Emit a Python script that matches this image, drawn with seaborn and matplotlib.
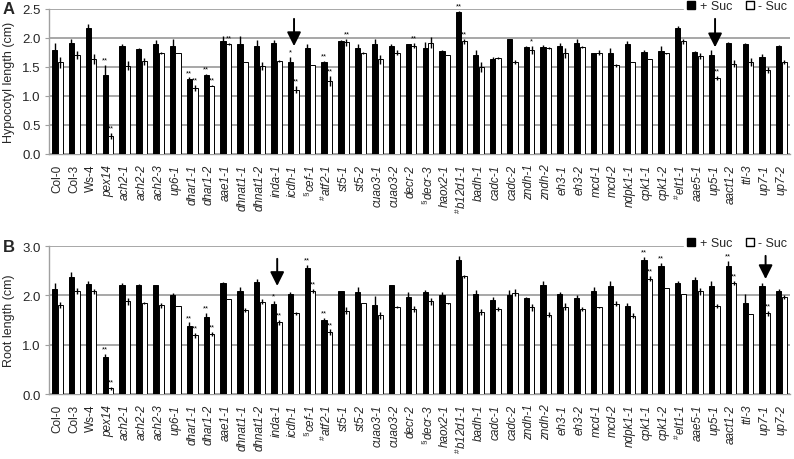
import matplotlib
matplotlib.use("Agg")
import matplotlib.pyplot as plt
import seaborn as sns
import pandas as pd
import numpy as np
from matplotlib.lines import Line2D

categories = ["Col-0", "Col-3", "Ws-4", "pex14", "ach2-1", "ach2-2", "ach2-3", "up6-1",
              "dhar1-1", "dhar1-2", "aae1-1", "dhnat1-1", "dhnat1-2", "inda-1", "icdh-1",
              "cef-1", "atf2-1", "st5-1", "st5-2", "cuao3-1", "cuao3-2", "decr-2", "decr-3",
              "haox2-1", "b12d1-1", "badh-1", "cadc-1", "cadc-2", "zndh-1", "zndh-2", "eh3-1",
              "eh3-2", "mcd-1", "mcd-2", "ndpk1-1", "cpk1-1", "cpk1-2", "elt1-1", "aae5-1",
              "up5-1", "aact1-2", "ttl-3", "up7-1", "up7-2"]
tick_labels = ["Col-0", "Col-3", "Ws-4", "pex14", "ach2-1", "ach2-2", "ach2-3", "up6-1",
               "dhar1-1", "dhar1-2", "aae1-1", "dhnat1-1", "dhnat1-2", "inda-1", "icdh-1",
               "§cef-1", "#atf2-1", "st5-1", "st5-2", "cuao3-1", "cuao3-2", "decr-2", "§decr-3",
               "haox2-1", "#b12d1-1", "badh-1", "cadc-1", "cadc-2", "zndh-1", "zndh-2", "eh3-1",
               "eh3-2", "mcd-1", "mcd-2", "ndpk1-1", "cpk1-1", "cpk1-2", "#elt1-1", "aae5-1",
               "up5-1", "aact1-2", "ttl-3", "up7-1", "up7-2"]
upright_labels = ["Col-0", "Col-3", "Ws-4"]
conditions = ["+ Suc", "- Suc"]

hyp_plus = [1.80, 1.92, 2.18, 1.37, 1.87, 1.81, 1.90, 1.86, 1.30, 1.36, 1.95, 1.90, 1.87, 1.91, 1.59,
            1.83, 1.59, 1.95, 1.82, 1.89, 1.87, 1.89, 1.83, 1.78, 2.44, 1.70, 1.64, 1.98, 1.84, 1.84,
            1.86, 1.92, 1.74, 1.75, 1.89, 1.76, 1.78, 2.17, 1.76, 1.71, 1.92, 1.90, 1.67, 1.87]
hyp_plus_err = [0.12, 0.07, 0.06, 0.17, 0.02, 0.01, 0.06, 0.13, 0.02, 0.02, 0.09, 0.13, 0.09, 0.06, 0.09,
                0.06, 0.01, 0.01, 0.07, 0.10, 0.02, 0.01, 0.10, 0.02, 0.02, 0.09, 0.03, 0.01, 0.03, 0.04,
                0.06, 0.06, 0.01, 0.07, 0.06, 0.03, 0.08, 0.03, 0.01, 0.08, 0.01, 0.01, 0.06, 0.01]
hyp_minus = [1.58, 1.71, 1.64, 0.31, 1.52, 1.60, 1.74, 1.75, 1.14, 1.18, 1.90, 1.59, 1.51, 1.60, 1.11,
             1.53, 1.26, 1.93, 1.74, 1.63, 1.75, 1.87, 1.92, 1.71, 1.94, 1.50, 1.66, 1.59, 1.79, 1.83,
             1.74, 1.85, 1.75, 1.53, 1.59, 1.64, 1.74, 1.94, 1.69, 1.31, 1.56, 1.59, 1.45, 1.59]
hyp_minus_err = [0.09, 0.07, 0.08, 0.05, 0.08, 0.06, 0.02, 0.00, 0.05, 0.01, 0.02, 0.00, 0.07, 0.02, 0.06,
                 0.00, 0.08, 0.06, 0.02, 0.07, 0.04, 0.05, 0.10, 0.00, 0.04, 0.09, 0.02, 0.03, 0.07, 0.02,
                 0.09, 0.02, 0.04, 0.03, 0.00, 0.00, 0.01, 0.05, 0.05, 0.03, 0.06, 0.07, 0.05, 0.03]

root_plus = [2.12, 2.37, 2.22, 0.76, 2.21, 2.20, 2.20, 2.00, 1.38, 1.56, 2.25, 2.09, 2.28, 1.82, 2.03,
             2.55, 1.50, 2.09, 2.07, 1.80, 2.20, 1.97, 2.06, 2.01, 2.72, 2.03, 1.91, 2.01, 1.94, 2.20,
             2.02, 1.95, 2.09, 2.19, 1.78, 2.72, 2.59, 2.24, 2.31, 2.19, 2.59, 1.85, 2.19, 2.08]
root_plus_err = [0.12, 0.10, 0.08, 0.06, 0.05, 0.02, 0.01, 0.05, 0.07, 0.08, 0.03, 0.08, 0.05, 0.06, 0.04,
                 0.07, 0.05, 0.00, 0.10, 0.18, 0.00, 0.10, 0.05, 0.06, 0.08, 0.08, 0.05, 0.09, 0.02, 0.10,
                 0.05, 0.06, 0.07, 0.10, 0.06, 0.06, 0.06, 0.05, 0.07, 0.10, 0.10, 0.18, 0.06, 0.04]
root_minus = [1.80, 2.08, 2.08, 0.12, 1.88, 1.85, 1.80, 1.78, 1.19, 1.22, 1.93, 1.70, 1.87, 1.45, 1.64,
              2.09, 1.25, 1.69, 1.84, 1.60, 1.76, 1.72, 1.88, 1.84, 2.39, 1.66, 1.72, 2.05, 1.76, 1.61,
              1.77, 1.72, 1.76, 1.83, 1.59, 2.34, 2.14, 2.03, 2.08, 1.78, 2.25, 1.62, 1.64, 1.96]
root_minus_err = [0.06, 0.06, 0.05, 0.03, 0.07, 0.02, 0.05, 0.00, 0.05, 0.04, 0.00, 0.04, 0.05, 0.05, 0.03,
                  0.04, 0.06, 0.07, 0.00, 0.07, 0.02, 0.06, 0.07, 0.01, 0.03, 0.06, 0.04, 0.07, 0.07, 0.05,
                  0.07, 0.04, 0.01, 0.05, 0.05, 0.05, 0.00, 0.00, 0.07, 0.04, 0.04, 0.00, 0.05, 0.04]

hyp_sig_plus = {"pex14": "**", "dhar1-1": "**", "dhar1-2": "**", "icdh-1": "*", "atf2-1": "**", "b12d1-1": "**"}
hyp_sig_minus = {"pex14": "**", "dhar1-1": "**", "dhar1-2": "**", "aae1-1": "**", "icdh-1": "**",
                 "atf2-1": "**", "st5-1": "**", "decr-2": "**", "b12d1-1": "**", "zndh-1": "*", "up5-1": "**"}
root_sig_plus = {"pex14": "**", "dhar1-1": "**", "dhar1-2": "**", "inda-1": "*", "cef-1": "**",
                 "atf2-1": "**", "cpk1-1": "**", "cpk1-2": "**", "aact1-2": "**"}
root_sig_minus = {"pex14": "**", "dhar1-1": "**", "dhar1-2": "**", "inda-1": "**", "cef-1": "**",
                  "atf2-1": "**", "cpk1-1": "**", "aact1-2": "**", "up7-1": "**"}

hyp_arrows = ["icdh-1", "up5-1"]
root_arrows = ["inda-1", "up7-1"]

sns.set_theme(style="white")
plt.rcParams["font.family"] = ["Liberation Sans", "DejaVu Sans"]
plt.rcParams["mathtext.fontset"] = "custom"
plt.rcParams["mathtext.rm"] = "Liberation Sans"
plt.rcParams["mathtext.it"] = "Liberation Sans:italic"

fig = plt.figure(figsize=(7.94, 4.60), dpi=100)
axA = fig.add_axes([49 / 794, 1 - 155 / 460, 741 / 794, 145 / 460])
axB = fig.add_axes([49 / 794, 1 - 395 / 460, 741 / 794, 148 / 460])

grid_c = "#a0a0a0"


def fmt_label(s):
    if s[0] in "§#":
        sym = r"\S" if s[0] == "§" else r"\#"
        return r"$^{" + sym + r"}$" + s[1:]
    return s


def panel(ax, plus, plus_err, minus, minus_err, sig_p, sig_m, ymax, ystep, ylabel, arrows, arrow_y, letter):
    df = pd.DataFrame({
        "cat": categories * 2,
        "cond": [conditions[0]] * len(categories) + [conditions[1]] * len(categories),
        "val": list(plus) + list(minus),
    })
    sns.barplot(data=df, x="cat", y="val", hue="cond", order=categories, hue_order=conditions,
                palette=["black", "white"], width=0.66, gap=0.06, errorbar=None, legend=False,
                edgecolor="black", linewidth=0.7, ax=ax, zorder=3)
    errs = [plus_err, minus_err]
    sigs = [sig_p, sig_m]
    for k, cont in enumerate(ax.containers[:2]):
        xs = [p.get_x() + p.get_width() / 2 for p in cont.patches]
        hs = [p.get_height() for p in cont.patches]
        ax.errorbar(xs, hs, yerr=errs[k], fmt="none", ecolor="black", elinewidth=1.0,
                    capsize=0, zorder=4)
        for i, c in enumerate(categories):
            if c in sigs[k]:
                ax.text(xs[i], hs[i] + errs[k][i] + ymax * 0.01, sigs[k][c], ha="center",
                        va="bottom", fontsize=5.5, color="black", zorder=5)
    ax.set_xlim(-0.5, len(categories) - 0.5)
    ax.set_ylim(0, ymax)
    ax.set_yticks(np.arange(0, ymax + 1e-9, ystep))
    ax.set_yticklabels([f"{v:.1f}" for v in np.arange(0, ymax + 1e-9, ystep)], fontsize=9.5)
    ax.yaxis.grid(True, color=grid_c, linewidth=1.3, zorder=0)
    ax.set_axisbelow(True)
    ax.set_xticks(range(len(categories)))
    ax.set_xticklabels([fmt_label(t) for t in tick_labels], rotation=90, fontsize=8.5)
    for t, lab in zip(ax.get_xticklabels(), tick_labels):
        if lab not in upright_labels:
            t.set_fontstyle("italic")
    ax.set_xticks(np.arange(-0.5, len(categories)), minor=True)
    ax.tick_params(axis="x", which="major", length=0, pad=7)
    ax.tick_params(axis="x", which="minor", length=3, color=grid_c, width=0.8, direction="out")
    ax.tick_params(axis="y", length=3, color=grid_c, width=0.8, direction="out", left=True, pad=3)
    ax.set_xlabel("")
    ax.set_ylabel(ylabel, fontsize=9, labelpad=5)
    for s in ["top", "right"]:
        ax.spines[s].set_visible(False)
    for s in ["left", "bottom"]:
        ax.spines[s].set_color(grid_c)
        ax.spines[s].set_linewidth(1.0)
    for name, (y0, y1) in zip(arrows, arrow_y):
        i = categories.index(name)
        ax.annotate("", xy=(i + 0.05, y1), xytext=(i + 0.05, y0),
                    arrowprops=dict(arrowstyle="-|>,head_width=0.35,head_length=0.7",
                                    color="black", lw=1.4, shrinkA=0, shrinkB=0), zorder=6)
    handles = [Line2D([], [], marker="s", color="none", markerfacecolor="black",
                      markeredgecolor="black", markersize=6, label=conditions[0]),
               Line2D([], [], marker="s", color="none", markerfacecolor="white",
                      markeredgecolor="black", markersize=6, label=conditions[1])]
    leg = ax.legend(handles=handles, ncol=2, loc="center right", bbox_to_anchor=(1.0, 1.02),
                    frameon=True, fontsize=9, handlelength=0.8, handletextpad=0.3,
                    columnspacing=1.0, borderpad=0.2, borderaxespad=0)
    leg.get_frame().set_facecolor("white")
    leg.get_frame().set_edgecolor("white")
    leg.get_frame().set_alpha(1)
    leg.set_zorder(10)
    ax.text(-0.062, 1.0, letter, transform=ax.transAxes, fontsize=12, fontweight="bold",
            ha="left", va="center")


panel(axA, hyp_plus, hyp_plus_err, hyp_minus, hyp_minus_err, hyp_sig_plus, hyp_sig_minus,
      2.5, 0.5, "Hypocotyl length (cm)", hyp_arrows, [(2.33, 1.86), (2.33, 1.84)], "A")
panel(axB, root_plus, root_plus_err, root_minus, root_minus_err, root_sig_plus, root_sig_minus,
      3.0, 1.0, "Root length (cm)", root_arrows, [(2.74, 2.19), (2.80, 2.33)], "B")

fig.savefig("out.png", dpi=100)
